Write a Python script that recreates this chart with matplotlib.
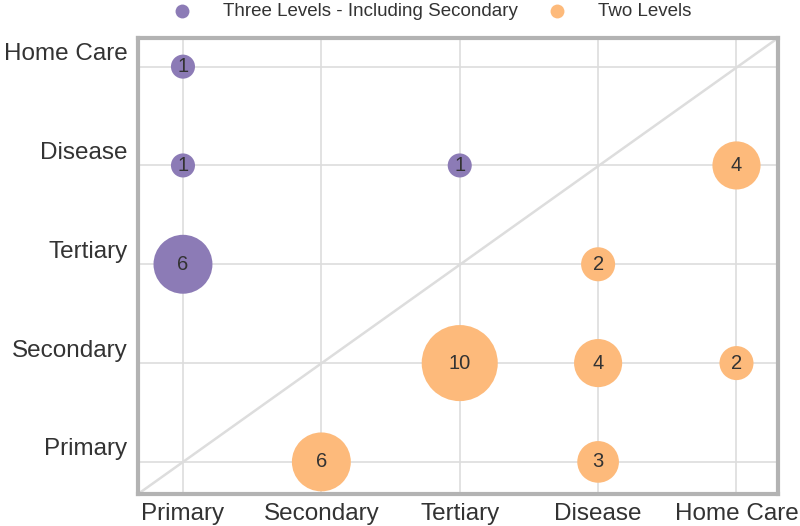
import matplotlib.pyplot as plt
import matplotlib.transforms as mtransforms
import seaborn as sns

sns.set_style('whitegrid')
plt.rcParams['font.family'] = ['Liberation Sans', 'DejaVu Sans']

niveles = ['Primary', 'Secondary', 'Tertiary', 'Disease', 'Home Care']

# Three Levels - Including Secondary
tres_x = ['Primary', 'Primary', 'Tertiary', 'Primary']
tres_y = ['Home Care', 'Disease', 'Disease', 'Tertiary']
tres_n = [1, 1, 1, 6]

# Two Levels
dos_x = ['Home Care', 'Disease', 'Tertiary', 'Disease', 'Home Care', 'Secondary', 'Disease']
dos_y = ['Disease', 'Tertiary', 'Secondary', 'Secondary', 'Secondary', 'Primary', 'Primary']
dos_n = [4, 2, 10, 4, 2, 6, 3]

col_tres = '#8c7bb6'
col_dos = '#fdba7b'

fig = plt.figure(figsize=(8, 5.26), dpi=100)
ax = fig.add_axes([0.1725, 0.0608, 0.80, 0.867])

def pos(lista):
    return [niveles.index(v) for v in lista]

ax.plot([0, 1], [0, 1], transform=ax.transAxes, color='#dddddd', lw=1.8, zorder=1)

ax.scatter(pos(tres_x), pos(tres_y), s=[300 * n for n in tres_n], color=col_tres,
           label='Three Levels - Including Secondary', zorder=3, linewidths=0)
ax.scatter(pos(dos_x), pos(dos_y), s=[300 * n for n in dos_n], color=col_dos,
           label='Two Levels', zorder=3, linewidths=0)

for xs, ys, ns in [(tres_x, tres_y, tres_n), (dos_x, dos_y, dos_n)]:
    for x, y, n in zip(pos(xs), pos(ys), ns):
        ax.text(x, y, str(n), ha='center', va='center', fontsize=14.5, color='#333333', zorder=4)

ax.set_xlim(-0.325, 4.3)
ax.set_ylim(-0.325, 4.29)
ax.set_xticks(range(len(niveles)))
ax.set_xticklabels(niveles)
ax.set_yticks(range(len(niveles)))
ax.set_yticklabels(niveles)
ax.tick_params(axis='both', labelsize=17.5, labelcolor='#333333')
ax.tick_params(axis='x', pad=3)
ax.tick_params(axis='y', pad=4)
ax.grid(color='#dddddd', lw=1.2)
ax.set_axisbelow(True)
for sp in ax.spines.values():
    sp.set_color('#b3b3b3')
    sp.set_linewidth(3)

# etiquetas del eje y un poco por encima de la línea
desplazo = mtransforms.ScaledTranslation(0, 15 / 100, fig.dpi_scale_trans)
for lbl in ax.get_yticklabels():
    lbl.set_transform(lbl.get_transform() + desplazo)

leg = fig.legend(loc='upper center', bbox_to_anchor=(0.534, 1.027), ncol=2, frameon=False,
                 fontsize=13.5, columnspacing=1.1, handletextpad=1.2)
for h in leg.legend_handles:
    h.set_sizes([100])
for t in leg.get_texts():
    t.set_color('#333333')

fig.savefig('out.png', dpi=100)
